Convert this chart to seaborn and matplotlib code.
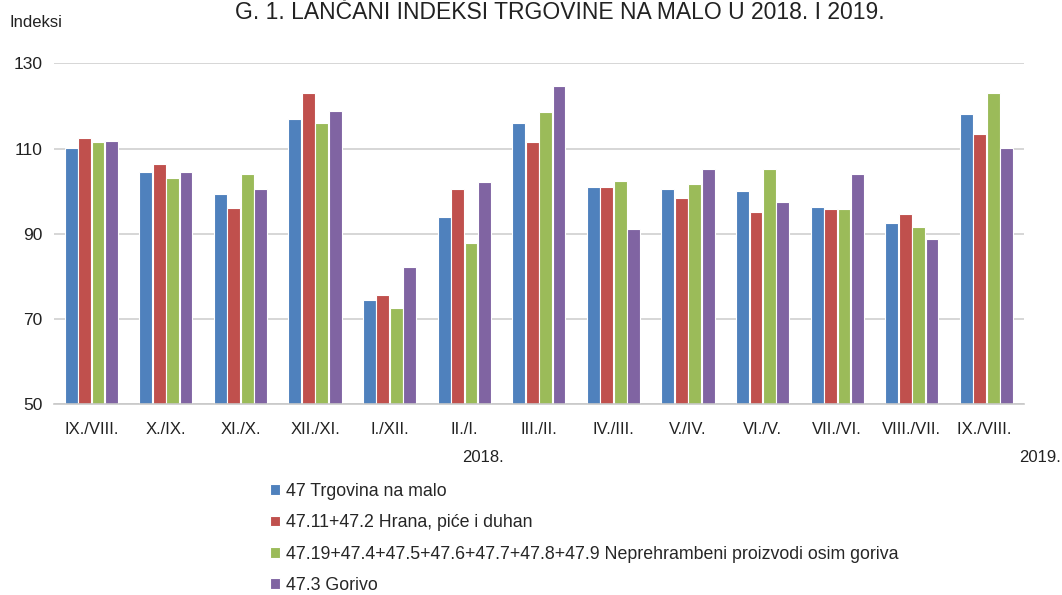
import pandas as pd
import numpy as np
import matplotlib
matplotlib.use('Agg')
import matplotlib.pyplot as plt
import seaborn as sns

periods = ['IX./VIII.', 'X./IX.', 'XI./X.', 'XII./XI.', 'I./XII.', 'II./I.', 'III./II.',
           'IV./III.', 'V./IV.', 'VI./V.', 'VII./VI.', 'VIII./VII.', 'IX./VIII. ']
series = ['47 Trgovina na malo',
          '47.11+47.2 Hrana, piće i duhan',
          '47.19+47.4+47.5+47.6+47.7+47.8+47.9 Neprehrambeni proizvodi osim goriva',
          '47.3 Gorivo']
trgovina = [110.2, 104.5, 99.3, 116.9, 74.5, 94.0, 115.9, 101.0, 100.4, 100.1, 96.4, 92.6, 118.0]
hrana = [112.4, 106.4, 96.1, 123.0, 75.6, 100.4, 111.5, 101.0, 98.3, 95.0, 95.8, 94.6, 113.4]
neprehrambeni = [111.5, 103.2, 104.0, 115.9, 72.6, 87.8, 118.6, 102.3, 101.8, 105.1, 95.8, 91.5, 123.0]
gorivo = [111.8, 104.5, 100.4, 118.9, 82.3, 102.1, 124.6, 91.2, 105.1, 97.5, 104.0, 88.8, 110.2]
colors = ['#4F81BD', '#C0504D', '#9BBB59', '#8064A2']

rows = []
for name, vals in zip(series, [trgovina, hrana, neprehrambeni, gorivo]):
    for p, v in zip(periods, vals):
        rows.append({'period': p, 'serija': name, 'indeks': v})
df = pd.DataFrame(rows)

sns.set_style('white')
plt.rcParams['font.family'] = ['Liberation Sans', 'DejaVu Sans']

fig = plt.figure(figsize=(10.62, 5.95), dpi=100)
ax = fig.add_axes([0.0508, 0.3205, 0.9132, 0.5731])

sns.barplot(data=df, x='period', y='indeks', hue='serija', order=periods, hue_order=series,
            palette=colors, saturation=1, width=0.72, gap=0.04, edgecolor='white',
            linewidth=0.8, ax=ax, legend=True)

ax.set_ylim(50, 130)
ax.set_yticks([50, 70, 90, 110, 130])
ax.yaxis.grid(True, color='#d0d0d0', linewidth=1.2)
ax.set_axisbelow(True)
for s in ['top', 'right', 'left']:
    ax.spines[s].set_visible(False)
ax.spines['bottom'].set_color('#c8c8c8')
ax.spines['bottom'].set_linewidth(1.2)
ax.tick_params(axis='both', length=0, colors='#222222')
ax.tick_params(axis='x', pad=13, labelsize=12)
ax.tick_params(axis='y', pad=8, labelsize=12.5)
ax.set_xlabel('')
ax.set_ylabel('')

handles, labels = ax.get_legend_handles_labels()
ax.get_legend().remove()
fig.legend(handles, labels, loc='upper left', bbox_to_anchor=(0.248, 0.2), frameon=False,
           fontsize=12.8, handlelength=0.55, handleheight=0.55, handletextpad=0.35,
           labelspacing=0.8, borderaxespad=0)

fig.text(0.009, 0.975, 'Indeksi', fontsize=12, va='top', ha='left', color='#222222')
fig.text(0.527, 1 - 19 / 595, 'G. 1. LANČANI INDEKSI TRGOVINE NA MALO U 2018. I 2019.',
         fontsize=16.5, ha='center', va='baseline', color='#222222')
fig.text(0.455, 1 - 462 / 595, '2018.', fontsize=12, ha='center', va='baseline', color='#222222')
fig.text(0.999, 1 - 462 / 595, '2019.', fontsize=12, ha='right', va='baseline', color='#222222')

fig.savefig('out.png', dpi=100)
